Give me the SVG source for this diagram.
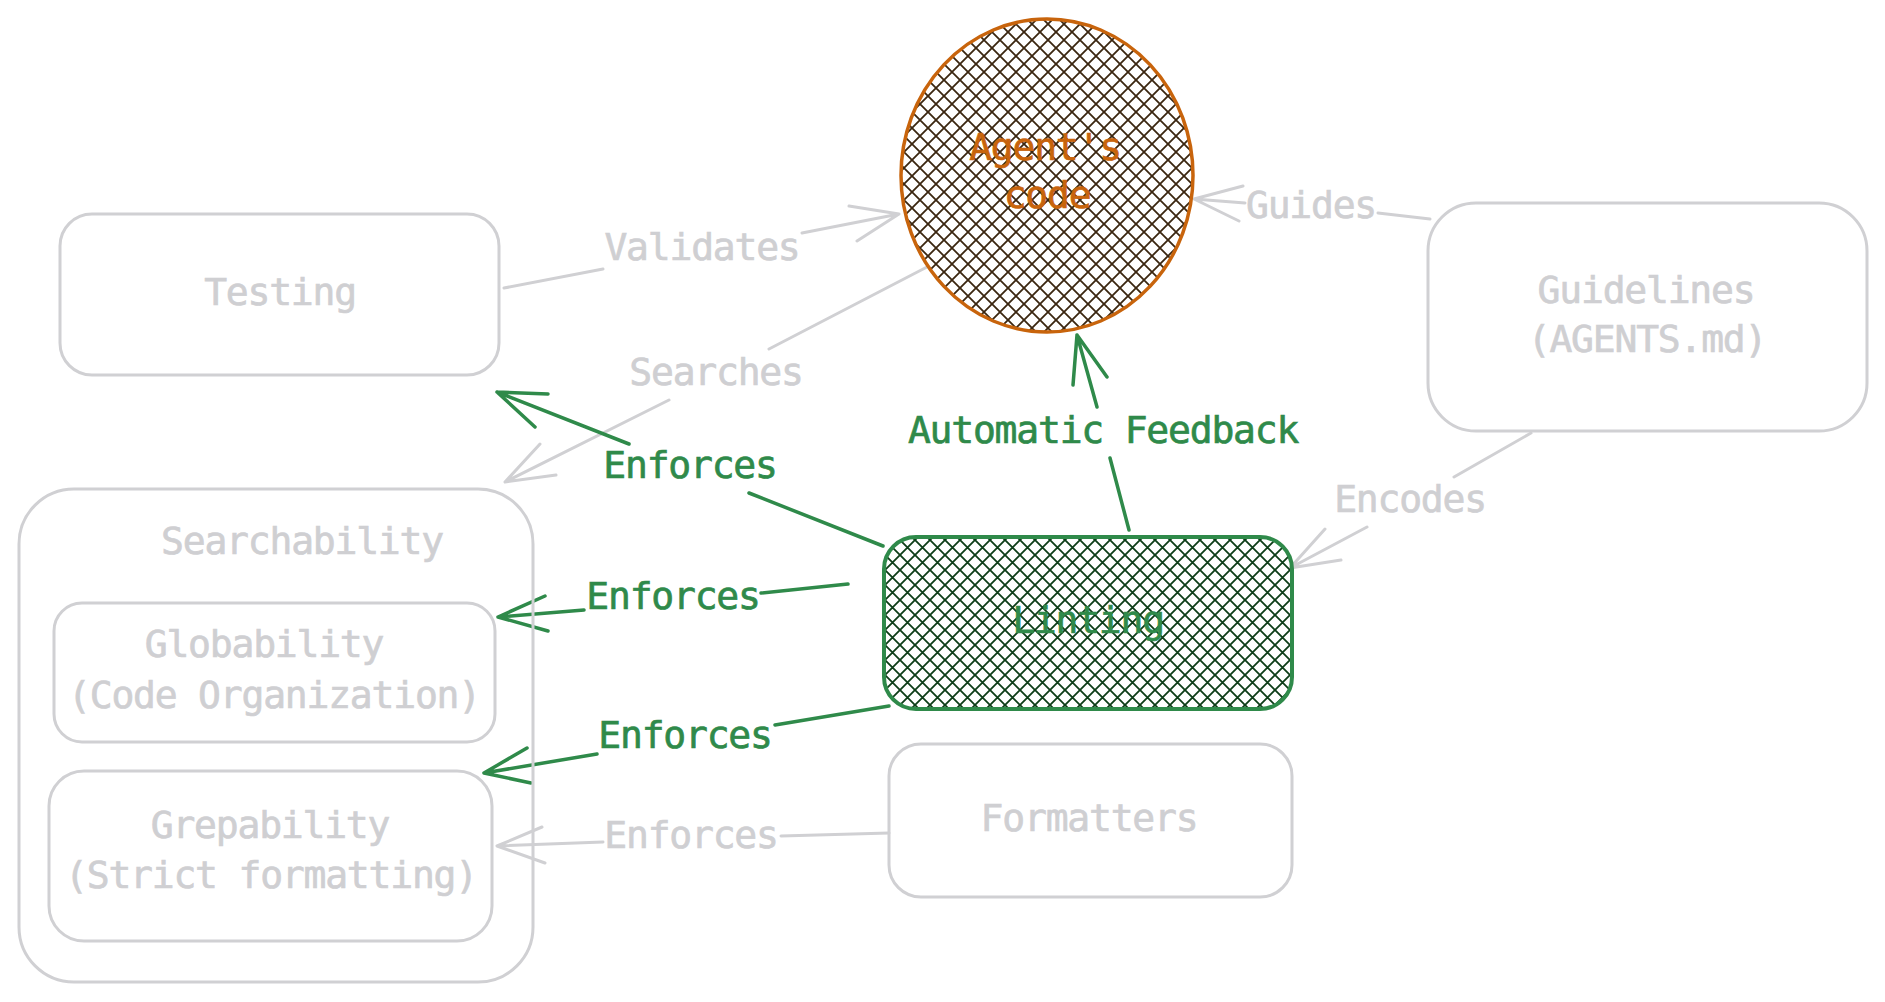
<svg xmlns="http://www.w3.org/2000/svg" width="1885" height="1002" viewBox="0 0 1885 1002">
<style>
  text { font-family: "DejaVu Sans Mono", "Liberation Mono", monospace; font-size: 38px; letter-spacing: -1.2px; text-anchor: middle; stroke-width: 0.7; }
  .gbox { fill: none; stroke: #d0d0d3; stroke-width: 3; }
  .gtxt { fill: #cfcfd2; stroke: #cfcfd2; }
  .grn { fill: #2f8a4a; stroke: #2f8a4a; }
  .org { fill: #c8640c; stroke: #c8640c; }
  .gline { fill: none; stroke: #d0d0d3; stroke-width: 3; stroke-linecap: round; stroke-linejoin: round; }
  .eline { fill: none; stroke: #2f8a4a; stroke-width: 3.5; stroke-linecap: round; stroke-linejoin: round; }
</style>
<defs>
  <pattern id="hatchG" patternUnits="userSpaceOnUse" width="15" height="15">
    <path d="M-1,-1 L16,16 M16,-1 L-1,16" stroke="#0d3d18" stroke-width="1.8" fill="none"/>
  </pattern>
  <pattern id="hatchB" patternUnits="userSpaceOnUse" width="16" height="16">
    <path d="M-1,-1 L17,17 M17,-1 L-1,17" stroke="#3b2610" stroke-width="1.8" fill="none"/>
  </pattern>
</defs>
<rect width="1885" height="1002" fill="#ffffff"/>

<g id="connectors">
  <!-- Validates -->
  <path class="gline" d="M504,288 L603,269 M802,233 L899,214 M849,206 L899,214 L857,241"/>
  <!-- Searches -->
  <path class="gline" d="M927,267 L769,349 M669,400 L505,482 M540,444 L505,482 L556,475"/>
  <!-- Guides -->
  <path class="gline" d="M1430,219 L1378,213 M1245,203 L1194,199 M1243,186 L1194,199 L1239,221"/>
  <!-- Encodes -->
  <path class="gline" d="M1531,433 L1454,477 M1367,527 L1290,568 M1325,529 L1290,568 L1341,560"/>
  <!-- Formatters enforces Grepability -->
  <path class="gline" d="M889,833 L781,836 M603,842 L497,846 M542,827 L497,846 L545,863"/>
  <!-- Linting enforces Testing -->
  <path class="eline" d="M883,546 L749,493 M629,444 L497,392 M548,394 L497,392 L535,427"/>
  <!-- Linting enforces Globability -->
  <path class="eline" d="M848,584 L761,593 M584,610 L498,617 M545,596 L498,617 L548,631"/>
  <!-- Linting enforces Grepability -->
  <path class="eline" d="M889,706 L775,725 M597,754 L484,773 M527,748 L484,773 L531,783"/>
  <!-- Automatic Feedback -->
  <path class="eline" d="M1129,530 L1110,458 M1097,407 L1077,335 M1073,385 L1077,335 L1107,377"/>

  <text class="gtxt" x="702" y="260">Validates</text>
  <text class="gtxt" x="716" y="385">Searches</text>
  <text class="gtxt" x="1311" y="218">Guides</text>
  <text class="gtxt" x="1410" y="512">Encodes</text>
  <text class="gtxt" x="691" y="848">Enforces</text>
  <text class="grn" x="690" y="478">Enforces</text>
  <text class="grn" x="673" y="609">Enforces</text>
  <text class="grn" x="685" y="748">Enforces</text>
  <text class="grn" x="1103" y="443">Automatic Feedback</text>
</g>

<g id="agents-code">
  <ellipse cx="1047" cy="175.5" rx="146" ry="156.5" fill="url(#hatchB)" stroke="#c8640c" stroke-width="3.5"/>
  <text class="org" x="1045" y="160">Agent's</text>
  <text class="org" x="1047" y="208">code</text>
</g>

<g id="testing">
  <rect class="gbox" x="60" y="214" width="439" height="161" rx="32"/>
  <text class="gtxt" x="280" y="305">Testing</text>
</g>

<g id="searchability">
  <rect class="gbox" x="19" y="489" width="514" height="493" rx="55"/>
  <text class="gtxt" x="302" y="554">Searchability</text>
</g>

<g id="globability">
  <rect class="gbox" x="54" y="603" width="441" height="139" rx="28"/>
  <text class="gtxt" x="264" y="657">Globability</text>
  <text class="gtxt" x="274" y="708">(Code Organization)</text>
</g>

<g id="grepability">
  <rect class="gbox" x="49" y="771" width="443" height="170" rx="35"/>
  <text class="gtxt" x="270" y="838">Grepability</text>
  <text class="gtxt" x="271" y="888">(Strict formatting)</text>
</g>

<g id="linting">
  <rect x="884" y="537" width="408" height="172" rx="32" fill="url(#hatchG)" stroke="#2f8a4a" stroke-width="4"/>
  <text class="grn" x="1088" y="633">Linting</text>
</g>

<g id="formatters">
  <rect class="gbox" x="889" y="744" width="403" height="153" rx="32"/>
  <text class="gtxt" x="1089" y="831">Formatters</text>
</g>

<g id="guidelines">
  <rect class="gbox" x="1428" y="203" width="439" height="228" rx="48"/>
  <text class="gtxt" x="1646" y="303">Guidelines</text>
  <text class="gtxt" x="1647" y="352">(AGENTS.md)</text>
</g>
</svg>
